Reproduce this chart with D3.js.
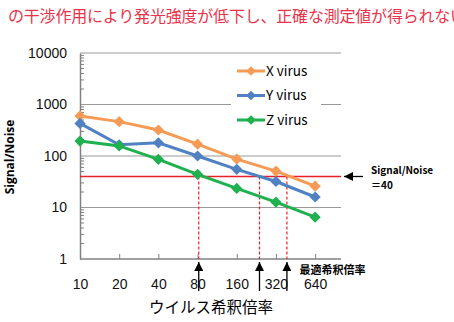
<!DOCTYPE html>
<html>
<head>
<meta charset="utf-8">
<script src="https://cdn.jsdelivr.net/npm/d3@7"></script>
<style>
body { margin: 0; background: #fff; }
svg { display: block; font-family: "Noto Sans CJK JP", "Noto Sans", sans-serif; }
.grid line { stroke: #9a9a9a; stroke-width: 1.2; }
.axis path, .axis line { stroke: #808080; }
.axis text { font-size: 14px; fill: #111; font-family: "Liberation Sans", Arial, sans-serif; }
</style>
</head>
<body>
<div class="chart-container"></div>
<script>
var dilutions = ["10", "20", "40", "80", "160", "320", "640"]
var xVirus = [600, 465, 320, 170, 87, 51, 26]
var yVirus = [430, 165, 180, 100, 55, 32, 16]
var zVirus = [195, 157, 86, 44, 23.5, 12.7, 6.5]
var seriesNames = ["X virus", "Y virus", "Z virus"]
var seriesColors = ["#f59b55", "#4f81c3", "#1fb04f"]
var yTicks = [1, 10, 100, 1000, 10000]
var threshold = 40
var crossAt = [3.03, 4.58, 5.28]     // where the dashed lines fall (index units)

var width = 454, height = 322
var margin = {top: 53, left: 80, right: 113, bottom: 63}
var w = width - margin.left - margin.right
var h = height - margin.top - margin.bottom

var x = d3.scaleLinear().domain([0, 6.66]).range([0, w])
var y = d3.scaleLog().domain([1, 10000]).range([h, 0])

var svg = d3.select('.chart-container')
    .append('svg')
    .attr('width', width)
    .attr('height', height)

// title (red, runs off the right edge like the original)
svg.append('text')
    .attr('x', 8)
    .attr('y', 22)
    .attr('fill', '#e8334a')
    .style('font-size', '16px')
    .style('letter-spacing', '-0.2px')
    .text('の干渉作用により発光強度が低下し、正確な測定値が得られない')

var g = svg.append('g')
    .attr('transform', 'translate(' + margin.left + ',' + margin.top + ')')

g.append('g')
    .attr('class', 'grid')
    .selectAll('line')
    .data(yTicks.slice(1))
    .enter()
    .append('line')
    .attr('x1', 0)
    .attr('x2', w)
    .attr('y1', function(d){return y(d)})
    .attr('y2', function(d){return y(d)})

// minor ticks on the log axis
var minor = []
yTicks.slice(0, -1).forEach(function(t){
    for (var k = 2; k < 10; k++) minor.push(t * k)
})
g.append('g')
    .attr('class', 'axis')
    .selectAll('line')
    .data(minor)
    .enter()
    .append('line')
    .attr('x1', 0)
    .attr('x2', 4)
    .attr('y1', function(d){return y(d)})
    .attr('y2', function(d){return y(d)})
    .attr('stroke', '#9a9a9a')

var yAxis = d3.axisLeft(y)
    .tickValues(yTicks)
    .tickSize(0)
    .tickPadding(13)
    .tickFormat(d3.format('d'))
g.append('g')
    .attr('class', 'axis')
    .call(yAxis)
    .select('.domain').attr('stroke-width', 1.5)

var xAxis = d3.axisBottom(x)
    .tickValues(d3.range(dilutions.length))
    .tickSize(-5)
    .tickPadding(20)
    .tickFormat(function(i){return dilutions[i]})
var xg = g.append('g')
    .attr('class', 'axis')
    .attr('transform', 'translate(0,' + h + ')')
    .call(xAxis)
xg.select('.domain').attr('d', 'M0,0H' + w).attr('stroke-width', 1.5)

// threshold line
g.append('line')
    .attr('x1', 0)
    .attr('x2', w)
    .attr('y1', y(threshold))
    .attr('y2', y(threshold))
    .attr('stroke', '#e8202a')
    .attr('stroke-width', 1.3)

g.selectAll('.drop')
    .data(crossAt)
    .enter()
    .append('line')
    .attr('class', 'drop')
    .attr('x1', function(d){return x(d)})
    .attr('x2', function(d){return x(d)})
    .attr('y1', y(threshold))
    .attr('y2', h)
    .attr('stroke', '#e8202a')
    .attr('stroke-width', 1.2)
    .attr('stroke-dasharray', '3,2')

var defs = svg.append('defs')
defs.append('marker')
    .attr('id', 'arr')
    .attr('viewBox', '0 0 10 10')
    .attr('refX', 10).attr('refY', 5)
    .attr('markerWidth', 9).attr('markerHeight', 9)
    .attr('markerUnits', 'userSpaceOnUse')
    .attr('orient', 'auto')
    .append('path')
    .attr('d', 'M0,0L10,5L0,10z')
    .attr('fill', '#000')

g.selectAll('.up')
    .data(crossAt)
    .enter()
    .append('line')
    .attr('class', 'up')
    .attr('x1', function(d){return x(d)})
    .attr('x2', function(d){return x(d)})
    .attr('y1', h + 32)
    .attr('y2', h + 3)
    .attr('stroke', '#000')
    .attr('stroke-width', 1.3)
    .attr('marker-end', 'url(#arr)')

g.append('text')
    .attr('x', x(5.6))
    .attr('y', h + 15)
    .style('font-size', '11px')
    .style('font-weight', 'bold')
    .text('最適希釈倍率')

// side label for threshold
g.append('line')
    .attr('x1', w + 22)
    .attr('x2', w + 3)
    .attr('y1', y(threshold))
    .attr('y2', y(threshold))
    .attr('stroke', '#000')
    .attr('stroke-width', 1.3)
    .attr('marker-end', 'url(#arr)')
var side = g.append('text')
    .attr('x', w + 30)
    .attr('y', y(threshold) - 2)
    .style('font-size', '10px')
    .style('font-weight', 'bold')
side.append('tspan').text('Signal/Noise')
side.append('tspan').attr('x', w + 30).attr('dy', 15).text('＝40')

// series
var allSeries = [xVirus, yVirus, zVirus]
var line = d3.line()
    .x(function(d, i){return x(i)})
    .y(function(d){return y(d)})
var diamond = d3.symbol().type(d3.symbolDiamond2).size(80)

allSeries.forEach(function(s, k){
    g.append('path')
        .datum(s)
        .attr('fill', 'none')
        .attr('stroke', seriesColors[k])
        .attr('stroke-width', 3)
        .attr('d', line)
    g.selectAll('.pt' + k)
        .data(s)
        .enter()
        .append('path')
        .attr('class', 'pt' + k)
        .attr('transform', function(d, i){return 'translate(' + x(i) + ',' + y(d) + ')'})
        .attr('d', diamond)
        .attr('fill', seriesColors[k])
})

// legend
var leg = g.append('g').attr('transform', 'translate(' + (w - 110) + ',6)')
leg.append('rect')
    .attr('x', 0).attr('y', 0)
    .attr('width', 90).attr('height', 76)
    .attr('fill', '#fff')
var items = leg.selectAll('.item')
    .data(seriesNames)
    .enter()
    .append('g')
    .attr('transform', function(d, i){return 'translate(0,' + (12 + i * 24.5) + ')'})
items.append('line')
    .attr('x1', 6).attr('x2', 34)
    .attr('stroke', function(d, i){return seriesColors[i]})
    .attr('stroke-width', 3)
items.append('path')
    .attr('transform', 'translate(20,0)')
    .attr('d', d3.symbol().type(d3.symbolDiamond2).size(60))
    .attr('fill', function(d, i){return seriesColors[i]})
items.append('text')
    .attr('x', 35)
    .attr('dy', '0.36em')
    .style('font-size', '13.5px')
    .text(function(d){return d})

// axis titles
svg.append('text')
    .attr('x', 211)
    .attr('y', 313)
    .attr('text-anchor', 'middle')
    .style('font-size', '15.5px')
    .text('ウイルス希釈倍率')

svg.append('text')
    .attr('transform', 'translate(14,157) rotate(-90)')
    .attr('text-anchor', 'middle')
    .style('font-size', '12px')
    .style('font-weight', 'bold')
    .style('font-family', '"Open Sans", sans-serif')
    .text('Signal/Noise')
</script>
</body>
</html>
